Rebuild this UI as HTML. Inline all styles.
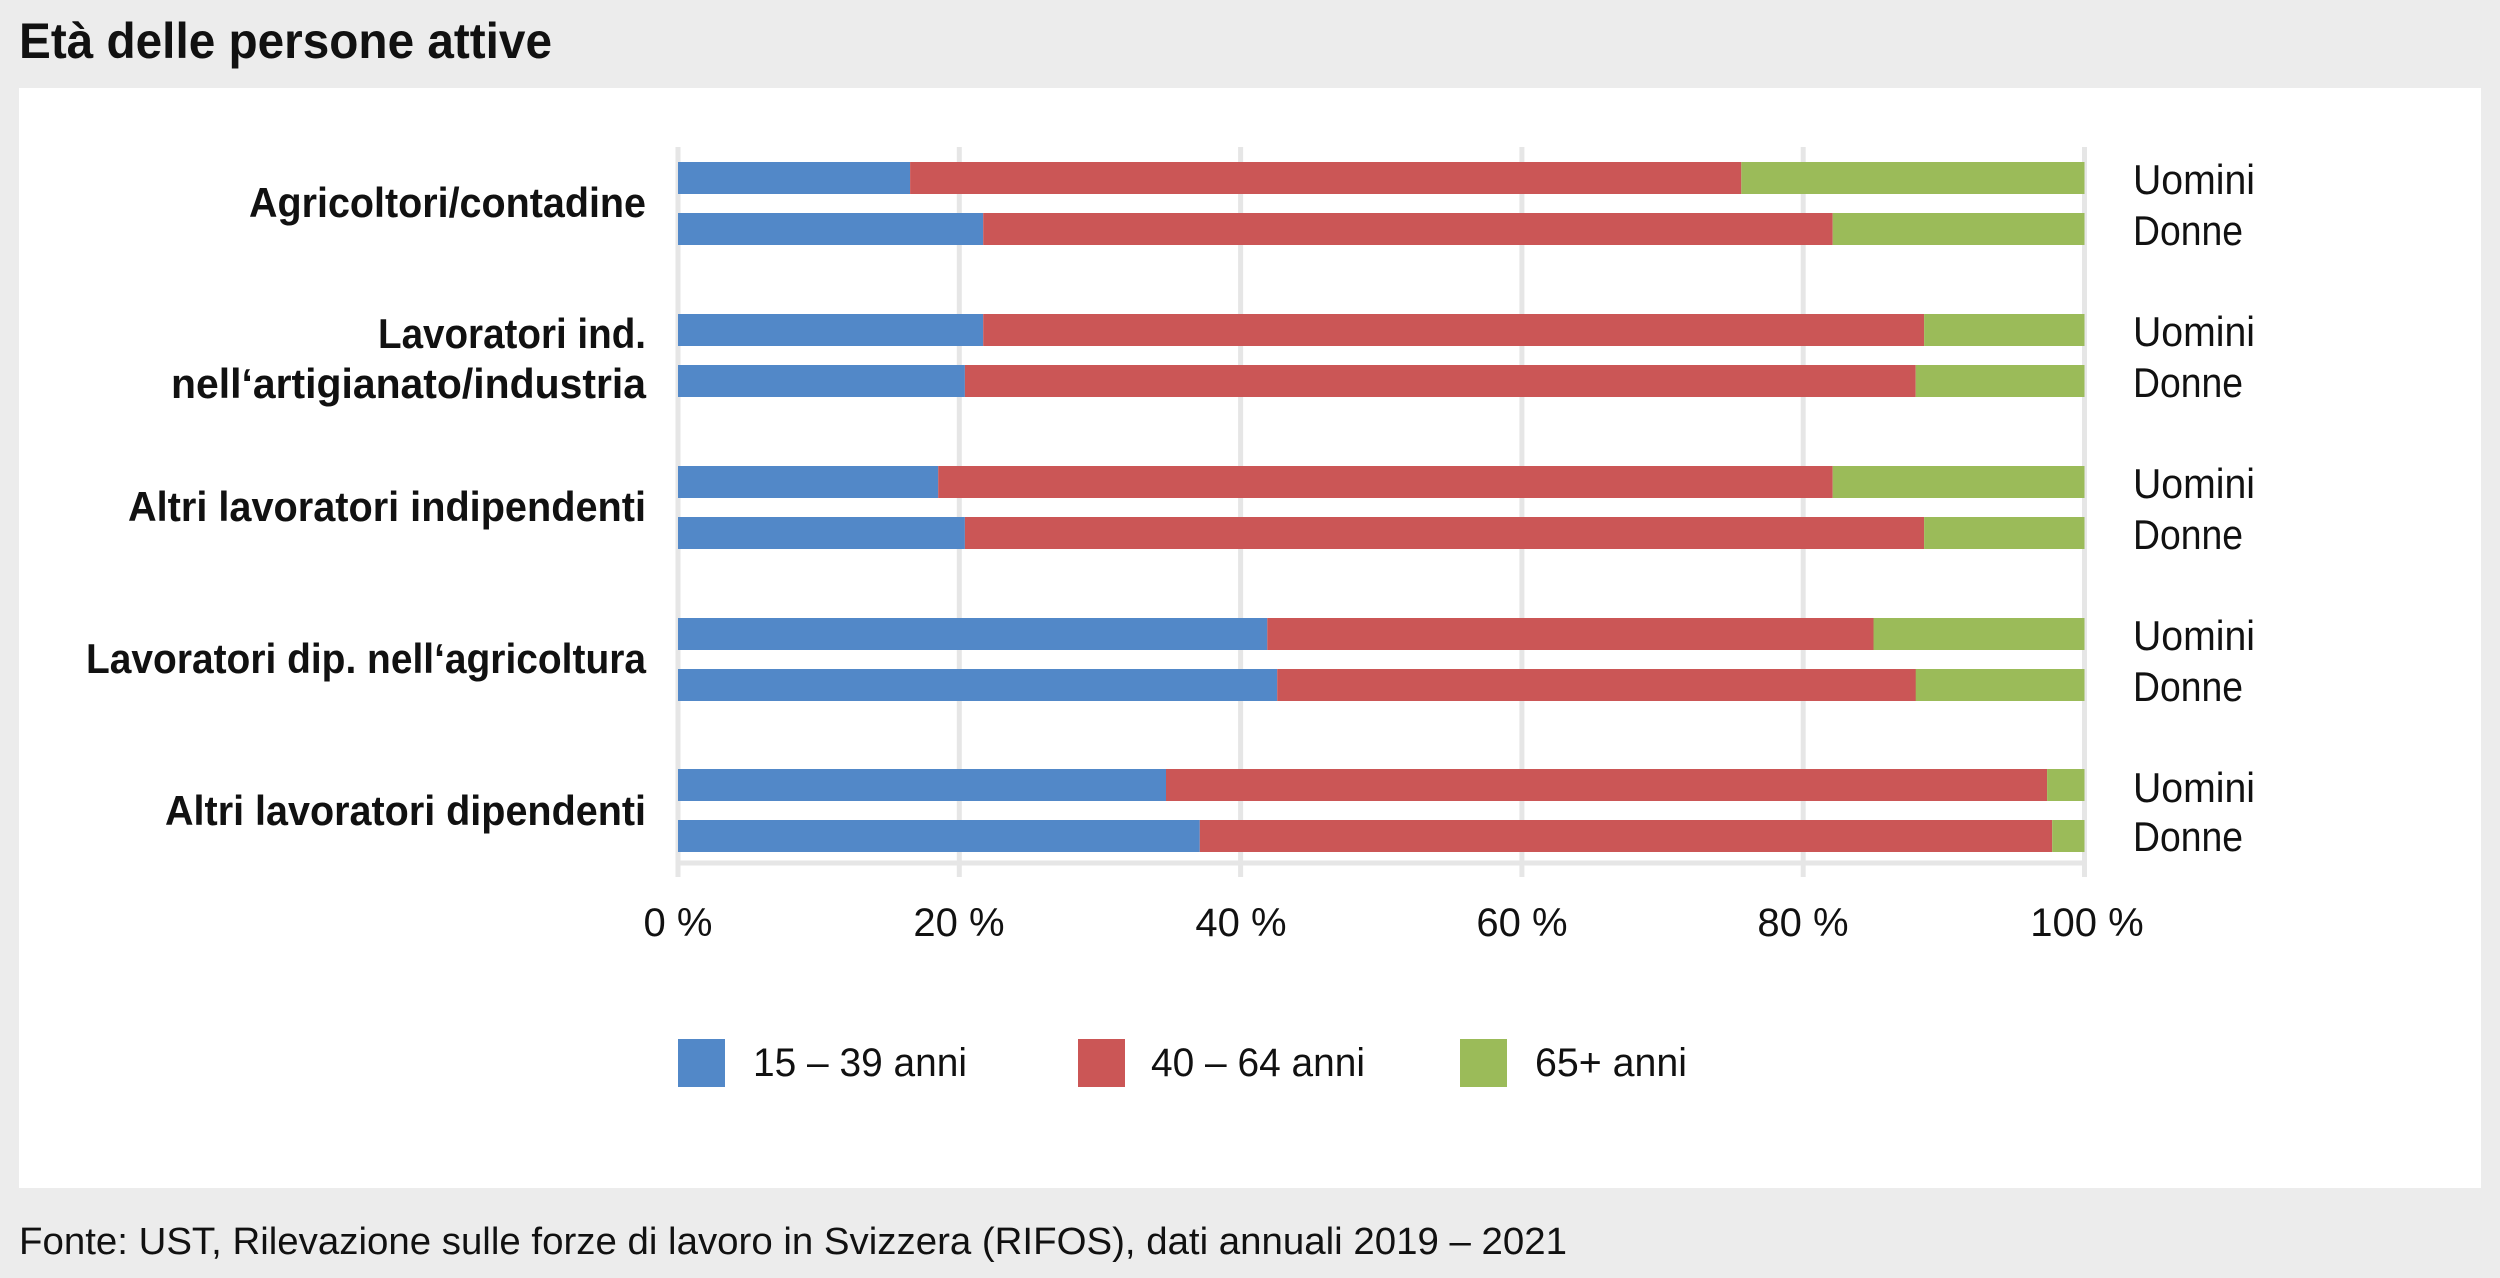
<!DOCTYPE html>
<html><head><meta charset="utf-8"><style>html,body{margin:0;padding:0;background:#ececec}svg{display:block}</style></head>
<body>
<svg width="2500" height="1278" viewBox="0 0 2500 1278" xmlns="http://www.w3.org/2000/svg" font-family="Liberation Sans, sans-serif">
<rect width="2500" height="1278" fill="#ececec"/>
<rect x="19" y="88" width="2462" height="1100" fill="#ffffff"/>
<text x="19" y="58" font-size="50" font-weight="bold" fill="#111" textLength="533" lengthAdjust="spacingAndGlyphs">Età delle persone attive</text>
<g stroke="#e6e6e6" stroke-width="5">
<line x1="678" y1="147" x2="678" y2="877"/>
<line x1="959.3" y1="147" x2="959.3" y2="877"/>
<line x1="1240.6" y1="147" x2="1240.6" y2="877"/>
<line x1="1521.9" y1="147" x2="1521.9" y2="877"/>
<line x1="1803.2" y1="147" x2="1803.2" y2="877"/>
<line x1="2084.5" y1="147" x2="2084.5" y2="877"/>
<line x1="678" y1="863" x2="2084.5" y2="863"/>
</g>
<g id="bars"></g>
<g font-size="42" font-weight="bold" fill="#111" text-anchor="end">
<text x="646" y="217" textLength="397" lengthAdjust="spacingAndGlyphs">Agricoltori/contadine</text>
<text x="646" y="348" textLength="268" lengthAdjust="spacingAndGlyphs">Lavoratori ind.</text>
<text x="646" y="398" textLength="475" lengthAdjust="spacingAndGlyphs">nell‘artigianato/industria</text>
<text x="646" y="521" textLength="518" lengthAdjust="spacingAndGlyphs">Altri lavoratori indipendenti</text>
<text x="646" y="673" textLength="560" lengthAdjust="spacingAndGlyphs">Lavoratori dip. nell‘agricoltura</text>
<text x="646" y="825" textLength="481" lengthAdjust="spacingAndGlyphs">Altri lavoratori dipendenti</text>
</g>
<g font-size="42" fill="#111">
<text x="2133" y="194" textLength="122" lengthAdjust="spacingAndGlyphs">Uomini</text>
<text x="2133" y="245" textLength="110" lengthAdjust="spacingAndGlyphs">Donne</text>
<text x="2133" y="346" textLength="122" lengthAdjust="spacingAndGlyphs">Uomini</text>
<text x="2133" y="397" textLength="110" lengthAdjust="spacingAndGlyphs">Donne</text>
<text x="2133" y="498" textLength="122" lengthAdjust="spacingAndGlyphs">Uomini</text>
<text x="2133" y="549" textLength="110" lengthAdjust="spacingAndGlyphs">Donne</text>
<text x="2133" y="650" textLength="122" lengthAdjust="spacingAndGlyphs">Uomini</text>
<text x="2133" y="701" textLength="110" lengthAdjust="spacingAndGlyphs">Donne</text>
<text x="2133" y="802" textLength="122" lengthAdjust="spacingAndGlyphs">Uomini</text>
<text x="2133" y="851" textLength="110" lengthAdjust="spacingAndGlyphs">Donne</text>
</g>
<g font-size="40" fill="#111" text-anchor="middle">
<text x="678" y="936">0 %</text>
<text x="959" y="936">20 %</text>
<text x="1241" y="936">40 %</text>
<text x="1522" y="936">60 %</text>
<text x="1803" y="936">80 %</text>
<text x="2087" y="936">100 %</text>
</g>
<rect x="678" y="1039" width="47" height="48" fill="#5288c8"/>
<rect x="1078" y="1039" width="47" height="48" fill="#cb5656"/>
<rect x="1460" y="1039" width="47" height="48" fill="#9bbb59"/>
<g font-size="40" fill="#111">
<text x="753" y="1076" textLength="214" lengthAdjust="spacingAndGlyphs">15 – 39 anni</text>
<text x="1151" y="1076" textLength="214" lengthAdjust="spacingAndGlyphs">40 – 64 anni</text>
<text x="1535" y="1076" textLength="152" lengthAdjust="spacingAndGlyphs">65+ anni</text>
</g>
<text x="19" y="1254" font-size="38" fill="#111" textLength="1548" lengthAdjust="spacingAndGlyphs">Fonte: UST, Rilevazione sulle forze di lavoro in Svizzera (RIFOS), dati annuali 2019 – 2021</text>
<g>
<!-- bars: x0=678, w100=1406.5 -->
<rect x="678" y="162" width="232.1" height="32" fill="#5288c8"/><rect x="910.1" y="162" width="831.2" height="32" fill="#cb5656"/><rect x="1741.3" y="162" width="343.2" height="32" fill="#9bbb59"/>
<rect x="678" y="213" width="305.2" height="32" fill="#5288c8"/><rect x="983.2" y="213" width="849.5" height="32" fill="#cb5656"/><rect x="1832.7" y="213" width="251.8" height="32" fill="#9bbb59"/>
<rect x="678" y="314" width="305.2" height="32" fill="#5288c8"/><rect x="983.2" y="314" width="940.9" height="32" fill="#cb5656"/><rect x="1924.1" y="314" width="160.4" height="32" fill="#9bbb59"/>
<rect x="678" y="365" width="286.9" height="32" fill="#5288c8"/><rect x="964.9" y="365" width="950.8" height="32" fill="#cb5656"/><rect x="1915.7" y="365" width="168.8" height="32" fill="#9bbb59"/>
<rect x="678" y="466" width="260.2" height="32" fill="#5288c8"/><rect x="938.2" y="466" width="894.5" height="32" fill="#cb5656"/><rect x="1832.7" y="466" width="251.8" height="32" fill="#9bbb59"/>
<rect x="678" y="517" width="286.9" height="32" fill="#5288c8"/><rect x="964.9" y="517" width="959.2" height="32" fill="#cb5656"/><rect x="1924.1" y="517" width="160.4" height="32" fill="#9bbb59"/>
<rect x="678" y="618" width="589.3" height="32" fill="#5288c8"/><rect x="1267.3" y="618" width="606.2" height="32" fill="#cb5656"/><rect x="1873.5" y="618" width="211" height="32" fill="#9bbb59"/>
<rect x="678" y="669" width="599.2" height="32" fill="#5288c8"/><rect x="1277.2" y="669" width="640.5" height="32" fill="#cb5656"/><rect x="1915.7" y="669" width="168.8" height="32" fill="#9bbb59"/>
<rect x="678" y="769" width="488" height="32" fill="#5288c8"/><rect x="1166" y="769" width="881.1" height="32" fill="#cb5656"/><rect x="2047.1" y="769" width="37.4" height="32" fill="#9bbb59"/>
<rect x="678" y="820" width="521.8" height="32" fill="#5288c8"/><rect x="1199.8" y="820" width="852.4" height="32" fill="#cb5656"/><rect x="2052.2" y="820" width="32.3" height="32" fill="#9bbb59"/>
</g>
</svg>
</body></html>
